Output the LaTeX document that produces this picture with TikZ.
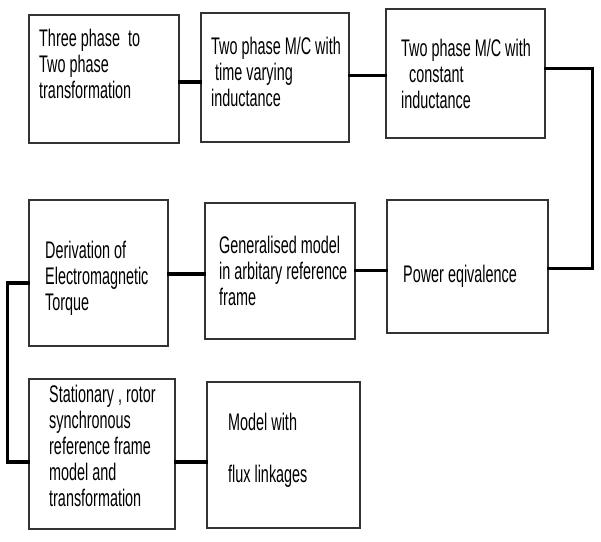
\documentclass[tikz,border=0pt]{standalone}
\usepackage{fontspec}
\setmainfont{Liberation Sans}[FakeStretch=0.6]
\usepackage{tikz}
\usetikzlibrary{positioning,calc}

\begin{document}
\begin{tikzpicture}[
  x=1pt, y=-1pt,
  every node/.style={font=\fontsize{24}{26}\selectfont},
  blk/.style={draw=black!80, line width=1.2pt, inner sep=0pt},
  txt/.style={inner sep=0pt, anchor=north west, align=left,
              execute at begin node={\rule{0pt}{18pt}}},
  conn/.style={line width=3.2pt, line cap=rect}
]
\useasboundingbox (0,0) rectangle (601,541);

%% boxes
\node[blk, minimum width=150, minimum height=128] (trans)  at (104,79)    {};
\node[blk, minimum width=148, minimum height=129] (varL)   at (275,77.5)  {};
\node[blk, minimum width=159, minimum height=129] (constL) at (465.5,73.5) {};
\node[blk, minimum width=139, minimum height=146] (torque) at (98.5,273)  {};
\node[blk, minimum width=150, minimum height=136] (gen)    at (280,271)   {};
\node[blk, minimum width=161, minimum height=133] (power)  at (467.5,266.5) {};
\node[blk, minimum width=146, minimum height=150] (frames) at (102,454)   {};
\node[blk, minimum width=153, minimum height=146] (flux)   at (283.5,455) {};

%% texts (top of first line = baseline - 18)
\node[txt] (transT)  at (39,29)   {Three phase \ to\\Two phase\\transformation};
\node[txt] (varLT)   at (211,37)  {Two phase M/C with\\\ time varying\\inductance};
\node[txt] (constLT) at (401,39)  {Two phase M/C with\\\ \ constant\\inductance};
\node[txt] (torqueT) at (45,241)  {Derivation of\\Electromagnetic\\Torque};
\node[txt] (genT)    at (219,236) {Generalised model\\in arbitary reference\\frame};
\node[txt] (powerT)  at (403,264) {Power eqivalence};
\node[txt] (framesT) at (49,385)  {Stationary , rotor\\synchronous\\reference frame\\model and\\transformation};
\node[txt] (fluxT)   at (228,413) {Model with\\[26pt]flux linkages};

%% connectors
\draw[conn] ([yshift=-3pt]trans.east) -- ([yshift=-3pt]trans.east -| varL.west);
\draw[conn] ([yshift=2pt]varL.east) -- ([yshift=2pt]varL.east -| constL.west);
\draw[conn] ([yshift=5pt]constL.east) -- ++(47,0) |- ([yshift=-2pt]power.east);
\draw[conn] ([yshift=-4pt]power.west) -- ([yshift=-4pt]power.west -| gen.east);
\draw[conn] ([yshift=-3pt]gen.west) -- ([yshift=-3pt]gen.west -| torque.east);
\draw[conn] ([yshift=-10pt]torque.west) -- ++(-21,0) |- ([yshift=-8pt]frames.west);
\draw[conn] ([yshift=-8pt]frames.east) -- ([yshift=-8pt]frames.east -| flux.west);

\end{tikzpicture}
\end{document}
